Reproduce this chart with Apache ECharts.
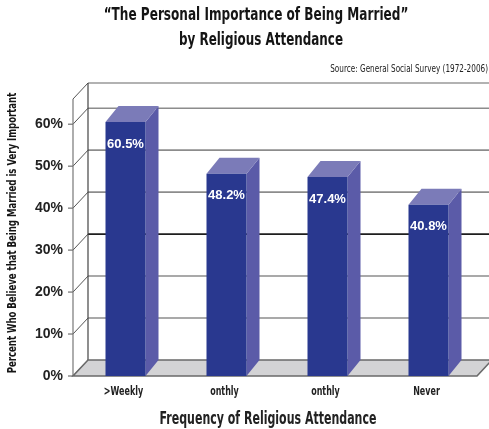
<!DOCTYPE html>
<html>
<head>
<meta charset="utf-8">
<script src="https://cdn.jsdelivr.net/npm/echarts@6/dist/echarts.min.js"></script>
<style>
html,body{margin:0;padding:0;background:#fff;}
#chart{width:489px;height:429px;}
</style>
</head>
<body>
<div id="chart"></div>
<script>
const categories = ['>Weekly', 'onthly', 'onthly', 'Never'];
const values = [60.5, 48.2, 47.4, 40.8];
const valueLabels = ['60.5%', '48.2%', '47.4%', '40.8%'];
const yTicks = [0, 10, 20, 30, 40, 50, 60];
const titleLines = ['\u201CThe Personal Importance of Being Married\u201D', 'by Religious Attendance'];
const sourceText = 'Source: General Social Survey (1972-2006)';
const yTitle = 'Percent Who Believe that Being Married is Very Important';
const xTitle = 'Frequency of Religious Attendance';

const COND = "'DejaVu Sans Condensed', 'DejaVu Sans', sans-serif";
const SANS = "'Liberation Sans', Arial, sans-serif";
const DX = 15, DY = -16;     // wall depth
const BDX = 13, BDY = -16;   // bar depth

const chart = echarts.init(document.getElementById('chart'), null, {renderer: 'canvas'});

function wallsItem(params, api) {
  const cs = params.coordSys;
  const x0 = cs.x, x1 = cs.x + cs.width, yt = cs.y, yb = cs.y + cs.height;
  const ch = [];
  ch.push({type: 'rect', shape: {x: x0 + DX, y: yt + DY, width: x1 - x0 + 40, height: yb - yt},
    style: {fill: '#ffffff'}});
  yTicks.forEach(function (v) {
    const y = api.coord([0, v])[1];
    const col = v === 30 ? '#1e1e1e' : '#8c8c8c';
    if (v !== 0) {
      ch.push({type: 'line', shape: {x1: x0 + DX, y1: y + DY, x2: x1 + DX + 40, y2: y + DY},
        style: {stroke: col, lineWidth: 1.6}});
    }
    ch.push({type: 'line', shape: {x1: x0 - 5, y1: y, x2: x0, y2: y},
      style: {stroke: '#555', lineWidth: 1}});
    ch.push({type: 'line', shape: {x1: x0, y1: y, x2: x0 + DX, y2: y + DY},
      style: {stroke: '#555', lineWidth: 1}});
  });
  ch.push({type: 'line', shape: {x1: x0 + DX, y1: yt + DY, x2: x1 + DX + 40, y2: yt + DY},
    style: {stroke: '#666', lineWidth: 1.2}});
  ch.push({type: 'line', shape: {x1: x0, y1: yt, x2: x0 + DX, y2: yt + DY},
    style: {stroke: '#555', lineWidth: 1}});
  ch.push({type: 'line', shape: {x1: x0, y1: yt, x2: x0, y2: yb},
    style: {stroke: '#777', lineWidth: 1.2}});
  ch.push({type: 'line', shape: {x1: x0 + DX, y1: yt + DY, x2: x0 + DX, y2: yb + DY},
    style: {stroke: '#444', lineWidth: 1.2}});
  ch.push({type: 'polygon', shape: {points: [[x0, yb], [x1, yb], [x1 + DX, yb + DY], [x0 + DX, yb + DY]]},
    style: {fill: '#d3d3d5', stroke: '#6a6a6a', lineWidth: 1.6}});
  return {type: 'group', children: ch};
}

function barItem(params, api) {
  const idx = api.value(0);
  const top = api.coord([idx, api.value(1)]);
  const base = api.coord([idx, 0]);
  const w = 40;
  const x = top[0] - w / 2 + 2;
  const yT = top[1], yB = base[1];
  return {type: 'group', children: [
    {type: 'polygon', shape: {points: [[x + w, yT], [x + w + BDX, yT + BDY], [x + w + BDX, yB + BDY], [x + w, yB]]},
      style: {fill: '#5b5ba8'}},
    {type: 'polygon', shape: {points: [[x, yT], [x + BDX, yT + BDY], [x + w + BDX, yT + BDY], [x + w, yT]]},
      style: {fill: '#7b7bb8'}},
    {type: 'rect', shape: {x: x, y: yT, width: w, height: yB - yT}, style: {fill: '#29388f'}},
    {type: 'text', x: x + w / 2, y: yT + 22,
      style: {text: valueLabels[params.dataIndex], fill: '#ffffff', align: 'center', verticalAlign: 'middle',
        font: 'bold 13px ' + SANS}},
    {type: 'text', x: top[0], y: yB + 16, scaleX: 0.74,
      style: {text: categories[params.dataIndex], fill: '#222', align: 'center', verticalAlign: 'middle',
        font: 'bold 12px ' + COND}}
  ]};
}

const option = {
  backgroundColor: '#ffffff',
  animation: false,
  grid: {left: 73, right: 12, top: 99, bottom: 53},
  xAxis: {
    type: 'category', data: categories,
    axisLine: {show: false}, axisTick: {show: false}, axisLabel: {show: false}
  },
  yAxis: {
    type: 'value', min: 0, max: 66, interval: 10,
    axisLine: {show: false}, axisTick: {show: false}, splitLine: {show: false},
    axisLabel: {margin: 10, color: '#222', fontWeight: 'bold', fontSize: 14, fontFamily: SANS,
      formatter: function (v) { return v % 10 === 0 ? v + '%' : ''; }}
  },
  graphic: [
    {type: 'text', x: 256, y: 16, scaleX: 0.79,
      style: {text: titleLines[0], font: 'bold 17px ' + COND, fill: '#151515', align: 'center', verticalAlign: 'middle'}},
    {type: 'text', x: 261, y: 41, scaleX: 0.78,
      style: {text: titleLines[1], font: 'bold 17px ' + COND, fill: '#151515', align: 'center', verticalAlign: 'middle'}},
    {type: 'text', x: 488, y: 69, scaleX: 0.81,
      style: {text: sourceText, font: '10px ' + COND, fill: '#222', align: 'right', verticalAlign: 'middle'}},
    {type: 'text', x: 13, y: 233, rotation: Math.PI / 2, scaleX: 0.73,
      style: {text: yTitle, font: 'bold 13px ' + COND, fill: '#151515', align: 'center', verticalAlign: 'middle'}},
    {type: 'text', x: 268, y: 420, scaleX: 0.72,
      style: {text: xTitle, font: 'bold 17px ' + COND, fill: '#222', align: 'center', verticalAlign: 'middle'}}
  ],
  series: [
    {type: 'custom', renderItem: wallsItem, data: [[0]], z: 1, silent: true},
    {type: 'custom', renderItem: barItem, data: values.map(function (v, i) { return [i, v]; }), z: 5,
      encode: {x: 0, y: 1}}
  ]
};
chart.setOption(option);
</script>
</body>
</html>
